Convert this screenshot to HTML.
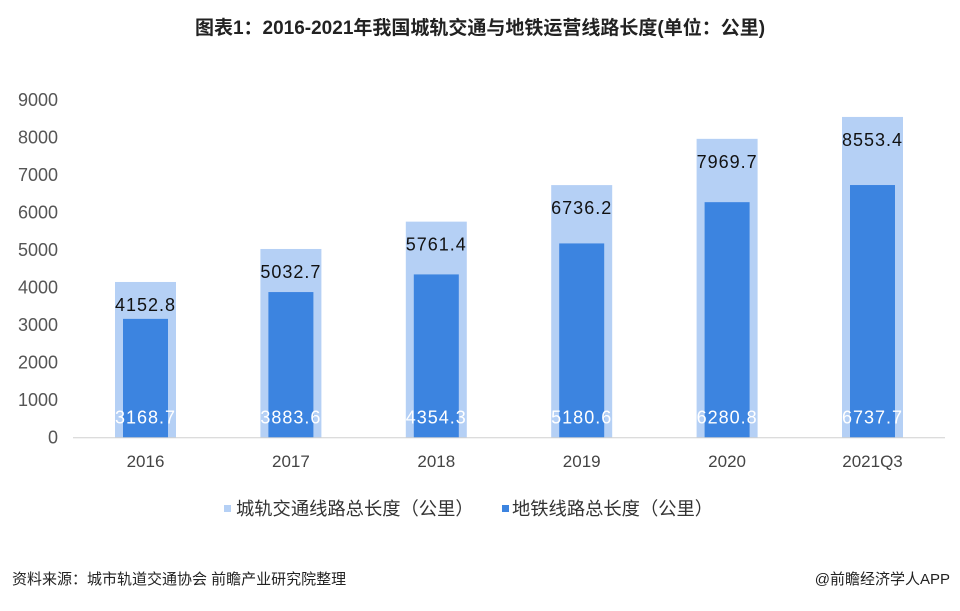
<!DOCTYPE html>
<html><head><meta charset="utf-8"><style>
body{margin:0;background:#fff;width:960px;height:606px;overflow:hidden;font-family:"Liberation Sans","Noto Sans CJK SC",sans-serif;}
svg text{font-family:"Liberation Sans","Noto Sans CJK SC",sans-serif;}
</style></head><body>
<svg id="chart" width="960" height="606">
<text x="480" y="34" text-anchor="middle" font-size="19" font-weight="bold" fill="#222">图表1：2016-2021年我国城轨交通与地铁运营线路长度(单位：公里)</text>
<g id="yaxis"></g>
<g id="bars"></g>
<line x1="73" y1="437.7" x2="945" y2="437.7" stroke="#d0d0d0"/>
<g id="xaxis"></g>
<g>
<rect x="224" y="505" width="7" height="7" fill="#b5d0f5"/>
<text x="236" y="515" font-size="18.3" fill="#333">城轨交通线路总长度（公里）</text>
<rect x="502" y="505" width="7" height="7" fill="#3c84e0"/>
<text x="512" y="515" font-size="18.3" fill="#333">地铁线路总长度（公里）</text>
</g>
<text x="12" y="584" font-size="15" fill="#222">资料来源：城市轨道交通协会 前瞻产业研究院整理</text>
<text x="950" y="584" text-anchor="end" font-size="15" fill="#222">@前瞻经济学人APP</text>
</svg>
<script>
const categories=["2016","2017","2018","2019","2020","2021Q3"];
const urbanRail=[4152.8,5032.7,5761.4,6736.2,7969.7,8553.4];
const metro=[3168.7,3883.6,4354.3,5180.6,6280.8,6737.7];
const yTicks=[0,1000,2000,3000,4000,5000,6000,7000,8000,9000];
const NS="http://www.w3.org/2000/svg";
const y0=437.7,k=37.5/1000;
const yScale=v=>y0-v*k;
const xScale=i=>145.5+i*145.4;
function mk(tag,attrs,parent,txt){const e=document.createElementNS(NS,tag);for(const a in attrs)e.setAttribute(a,attrs[a]);if(txt!==undefined)e.textContent=txt;parent.appendChild(e);return e;}
const ya=document.getElementById('yaxis'),bars=document.getElementById('bars'),xa=document.getElementById('xaxis');
yTicks.forEach(t=>{
  const e=mk('text',{x:58,y:yScale(t)+6,'text-anchor':'end','font-size':18,fill:'#555'},ya,String(t));
  
  
});
categories.forEach((c,i)=>{
  const cx=xScale(i);
  const o=mk('rect',{x:cx-30.5,y:yScale(urbanRail[i]),width:61,height:y0-yScale(urbanRail[i]),fill:'#b5d0f5'},bars);
  
  
  const m=mk('rect',{x:cx-22.5,y:yScale(metro[i]),width:45,height:y0-yScale(metro[i]),fill:'#3c84e0'},bars);
  
  
  const l1=mk('text',{x:cx,y:yScale(urbanRail[i])+29,'text-anchor':'middle','font-size':18,fill:'#111','letter-spacing':'1'},bars,urbanRail[i].toFixed(1));
  
  
  const l2=mk('text',{x:cx,y:y0-14,'text-anchor':'middle','font-size':18,fill:'#fff','letter-spacing':'1'},bars,metro[i].toFixed(1));
  
  
  const xl=mk('text',{x:cx,y:467,'text-anchor':'middle','font-size':17,fill:'#444'},xa,c);
  
  
});
</script>
</body></html>
